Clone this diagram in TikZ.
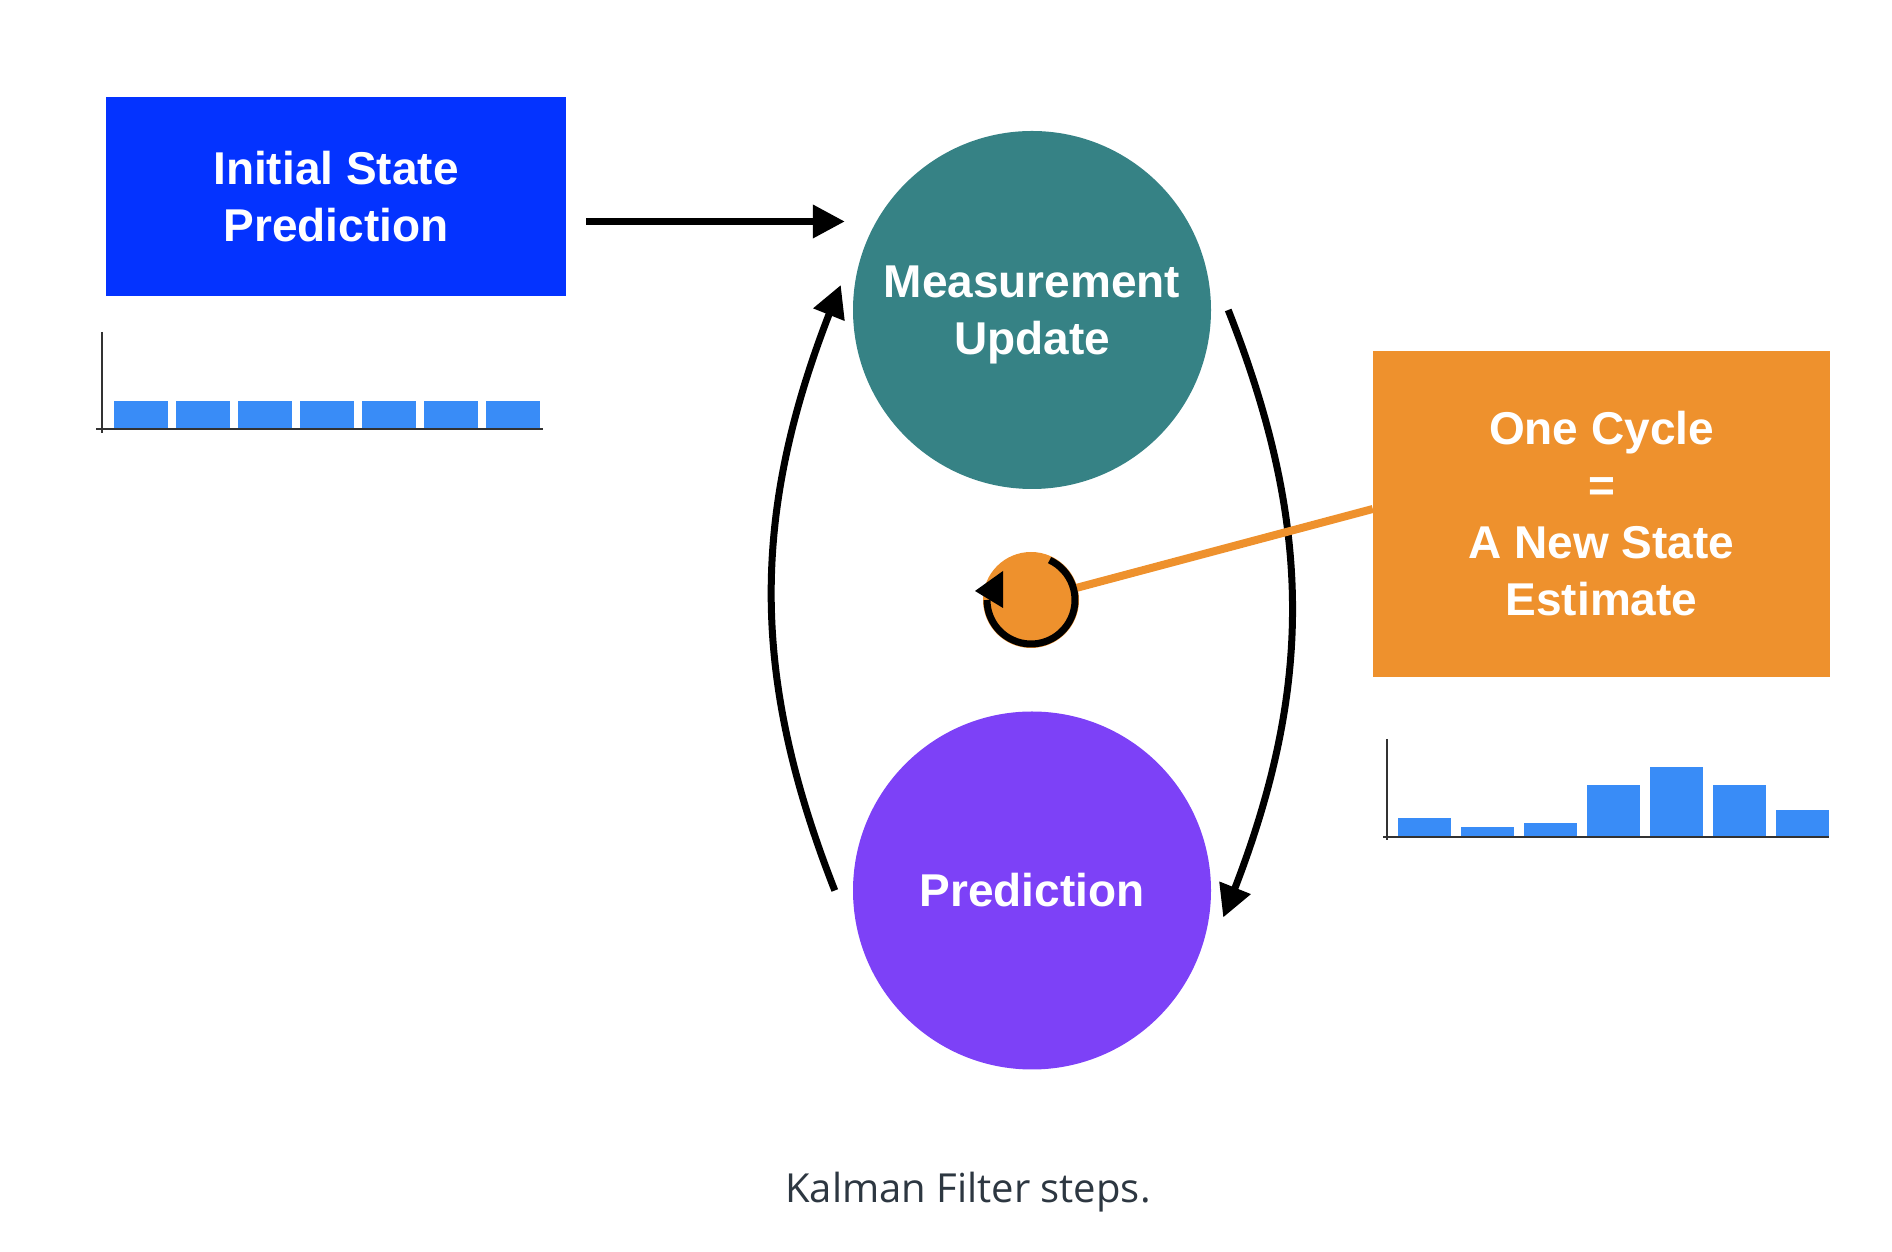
\documentclass[tikz,border=0pt]{standalone}
\usepackage{fontspec}
\setmainfont{Liberation Sans}
\newfontfamily\capfont{Open Sans}
\usetikzlibrary{arrows.meta,bending}

\definecolor{initblue}{RGB}{4,51,255}
\definecolor{measteal}{RGB}{54,130,133}
\definecolor{predpurple}{RGB}{125,65,247}
\definecolor{cycorange}{RGB}{238,145,45}
\definecolor{barblue}{RGB}{57,140,247}
\definecolor{capgray}{RGB}{45,55,65}
\definecolor{axisgray}{RGB}{50,50,50}

\begin{document}
\begin{tikzpicture}[x=1pt,y=1pt]
  \tikzstyle{box}=[rectangle,text=white,align=center,inner sep=0pt,font=\bfseries\fontsize{46pt}{57pt}\selectfont]
  \tikzstyle{stage}=[circle,text=white,align=center,inner sep=0pt,minimum size=358pt,font=\bfseries\fontsize{46pt}{57pt}\selectfont]
  \tikzstyle{flow}=[line width=7pt,-{Triangle[length=32pt,width=32pt]}]
  \tikzstyle{bar}=[fill=barblue]
  \tikzstyle{axis}=[draw=axisgray,line width=2pt]

  \useasboundingbox (0,0) rectangle (1892,1252);

  \node[box,fill=initblue,minimum width=460pt,minimum height=199pt,text depth=-5pt] (init) at (336,1055.5) {Initial State\\Prediction};
  \node[stage,fill=measteal,text depth=0pt] (meas) at (1032,942) {Measurement\\Update};
  \node[stage,fill=predpurple] (pred) at (1032,361.5) {Prediction};
  \node[box,fill=cycorange,minimum width=457pt,minimum height=326pt] (cycbox) at (1601.5,738) {One Cycle\\=\\A New State\\Estimate};

  \draw[flow,shorten >=8pt] ([shift={(20,-25)}]init.east) coordinate (a0) -- (a0 -| meas.west);
  \draw[flow] ([xshift=-18pt]pred.west) to [bend left=22] ([shift={(-12,25)}]meas.west);
  \draw[flow] ([xshift=17pt]meas.east) to [bend left=22] ([shift={(12,-27)}]pred.east);

  % one cycle marker
  \draw[cycorange,line width=8pt] (1031,652) -- ([yshift=5pt]cycbox.west);
  \node[circle,fill=cycorange,minimum size=96pt,inner sep=0pt] (cyc) at (1031,652) {};
  \draw[line width=7pt] (cyc.center) ++(65:44) arc [start angle=65, end angle=-180, radius=44];
  \fill (975,661) -- (1003,681) -- (1003,644) -- cycle;

  % flat histogram
  \fill[bar] (114,823) rectangle ++(54,28);
  \fill[bar] (176,823) rectangle ++(54,28);
  \fill[bar] (238,823) rectangle ++(54,28);
  \fill[bar] (300,823) rectangle ++(54,28);
  \fill[bar] (362,823) rectangle ++(54,28);
  \fill[bar] (424,823) rectangle ++(54,28);
  \fill[bar] (486,823) rectangle ++(54,28);
  \draw[axis] (102,920) -- (102,819);
  \draw[axis] (96,823) -- (543,823);

  % estimate histogram
  \fill[bar] (1398,415) rectangle ++(53,19);
  \fill[bar] (1461,415) rectangle ++(53,10);
  \fill[bar] (1524,415) rectangle ++(53,14);
  \fill[bar] (1587,415) rectangle ++(53,52);
  \fill[bar] (1650,415) rectangle ++(53,70);
  \fill[bar] (1713,415) rectangle ++(53,52);
  \fill[bar] (1776,415) rectangle ++(53,27);
  \draw[axis] (1387,513) -- (1387,412);
  \draw[axis] (1383,415) -- (1829,415);

  \node[anchor=base,text=capgray,font=\capfont\fontsize{40pt}{48pt}\selectfont] (caption) at (968,49) {Kalman Filter steps.};
\end{tikzpicture}
\end{document}
